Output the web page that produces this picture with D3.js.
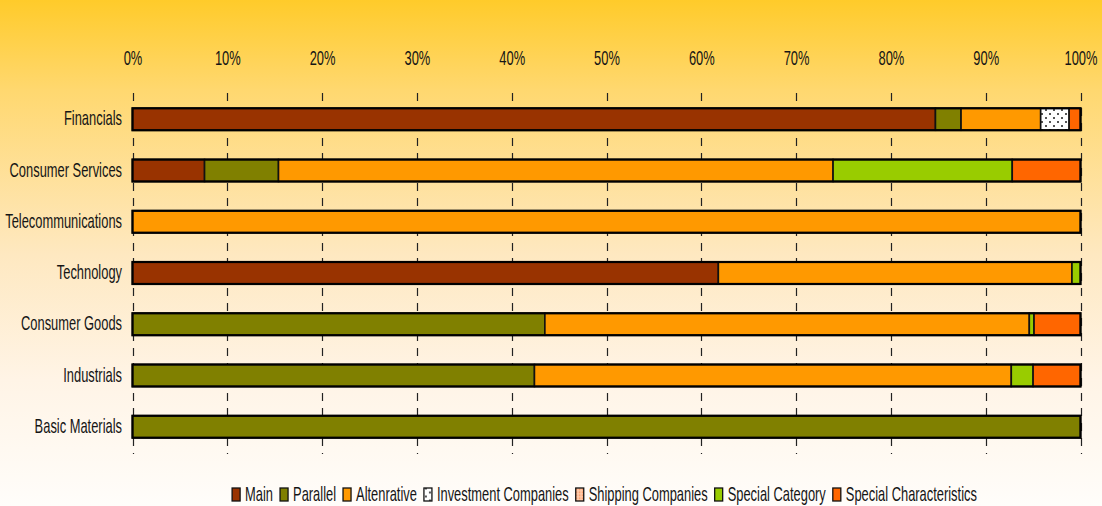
<!DOCTYPE html>
<html>
<head>
<meta charset="utf-8">
<script src="https://cdn.jsdelivr.net/npm/d3@7"></script>
<style>
  body { margin: 0; }
  text { font-family: 'Liberation Sans', Arial, sans-serif; fill: #151515; font-size: 20px; }
</style>
</head>
<body>
<div id="chart"></div>
<script>
// categories (top to bottom) and series, values in % of each sector
const categories = ["Financials", "Consumer Services", "Telecommunications", "Technology", "Consumer Goods", "Industrials", "Basic Materials"];
const seriesNames = ["Main", "Parallel", "Altenrative", "Investment Companies", "Shipping Companies", "Special Category", "Special Characteristics"];
const mainVals      = [84.7, 7.6, 0, 61.8, 0, 0, 0];
const parallelVals  = [2.7, 7.8, 0, 0, 43.5, 42.4, 100];
const altVals       = [8.4, 58.5, 100, 37.3, 51.1, 50.3, 0];
const investVals    = [3.0, 0, 0, 0, 0, 0, 0];
const shippingVals  = [0, 0, 0, 0, 0, 0, 0];
const specCatVals   = [0, 18.9, 0, 0.9, 0.5, 2.3, 0];
const specCharVals  = [1.2, 7.2, 0, 0, 4.9, 5.0, 0];
const tickValues = [0, 10, 20, 30, 40, 50, 60, 70, 80, 90, 100];

const colors = ["#993300", "#808000", "#ff9900", "url(#dots)", "url(#ship)", "#99cc00", "#ff6600"];
const NARROW = 0.645; // the original text is tall and very condensed

const W = 1102, H = 506;
const svg = d3.select("#chart").append("svg")
    .attr("width", W)
    .attr("height", H);

const defs = svg.append("defs");
const grad = defs.append("linearGradient")
    .attr("id", "bg").attr("x1", 0).attr("y1", 0).attr("x2", 0).attr("y2", 1);
grad.append("stop").attr("offset", "0%").attr("stop-color", "#ffcb2a");
grad.append("stop").attr("offset", "18%").attr("stop-color", "#ffd870");
grad.append("stop").attr("offset", "50%").attr("stop-color", "#fee8c0");
grad.append("stop").attr("offset", "75%").attr("stop-color", "#fff4e6");
grad.append("stop").attr("offset", "100%").attr("stop-color", "#fffdfa");

const dots = defs.append("pattern").attr("id", "dots")
    .attr("width", 8).attr("height", 8).attr("patternUnits", "userSpaceOnUse");
dots.append("rect").attr("width", 8).attr("height", 8).attr("fill", "#fff");
dots.append("rect").attr("x", 1).attr("y", 1).attr("width", 2).attr("height", 2).attr("fill", "#555");
dots.append("rect").attr("x", 5).attr("y", 5).attr("width", 2).attr("height", 2).attr("fill", "#555");

const ship = defs.append("pattern").attr("id", "ship")
    .attr("width", 3).attr("height", 3).attr("patternUnits", "userSpaceOnUse");
ship.append("rect").attr("width", 3).attr("height", 3).attr("fill", "#ffd0b0");
ship.append("rect").attr("width", 1.5).attr("height", 1.5).attr("fill", "#ff8a50");

svg.append("rect").attr("width", W).attr("height", H).attr("fill", "url(#bg)");

const x = d3.scaleLinear().domain([0, 100]).range([132.5, 1080.5]);
const y = d3.scaleBand().domain(categories).range([79, 467]).padding(0.571);

// build rows for stacking
const allVals = [mainVals, parallelVals, altVals, investVals, shippingVals, specCatVals, specCharVals];
const rows = categories.map((c, i) => {
    const r = {cat: c};
    seriesNames.forEach((s, j) => r[s] = allVals[j][i]);
    return r;
});
const stacked = d3.stack().keys(seriesNames)(rows);

// dashed grid lines
svg.append("g")
  .selectAll("line")
  .data(tickValues)
  .enter().append("line")
    .attr("x1", d => Math.round(x(d)) + 0.5)
    .attr("x2", d => Math.round(x(d)) + 0.5)
    .attr("y1", 93)
    .attr("y2", 454)
    .attr("stroke", "#222")
    .attr("stroke-width", 1.2)
    .attr("stroke-dasharray", "8,7");

// top axis labels
const axis = svg.append("g")
    .attr("transform", "translate(0,65)")
    .call(d3.axisTop(x).tickValues(tickValues).tickFormat(d => d + "%").tickSize(0).tickPadding(0));
axis.select(".domain").remove();
axis.selectAll("text")
    .style("font-size", null)
    .style("font-family", null)
    .attr("y", null).attr("dy", null)
    .attr("transform", `scale(${NARROW},1)`);

// bars
svg.append("g")
  .selectAll("g")
  .data(stacked)
  .enter().append("g")
    .attr("fill", (d, i) => colors[i])
  .selectAll("rect")
  .data(d => d.filter(p => p[1] - p[0] > 0))
  .enter().append("rect")
    .attr("x", d => x(d[0]))
    .attr("y", d => y(d.data.cat))
    .attr("width", d => x(d[1]) - x(d[0]))
    .attr("height", y.bandwidth())
    .attr("stroke", "#111")
    .attr("stroke-width", 1.6);

// outer outline of each bar
svg.append("g")
  .selectAll("rect")
  .data(categories)
  .enter().append("rect")
    .attr("x", x(0))
    .attr("y", d => y(d))
    .attr("width", x(100) - x(0))
    .attr("height", y.bandwidth())
    .attr("fill", "none")
    .attr("stroke", "#000")
    .attr("stroke-width", 2.2);

// category labels
svg.append("g")
  .selectAll("text")
  .data(categories)
  .enter().append("text")
    .attr("transform", d => `translate(122,${y(d) + y.bandwidth() / 2}) scale(${NARROW},1)`)
    .attr("dy", "0.3em")
    .attr("text-anchor", "end")
    .text(d => d);

// legend
const legend = svg.append("g");
let lx = 0;
const gap = 7;
seriesNames.forEach((s, i) => {
    const g = legend.append("g").attr("transform", `translate(${lx},0)`);
    g.append("rect")
        .attr("x", 0).attr("y", -6.5)
        .attr("width", 8).attr("height", 13)
        .attr("fill", colors[i])
        .attr("stroke", "#111")
        .attr("stroke-width", 1.3);
    const t = g.append("text")
        .attr("transform", `translate(13,0) scale(${NARROW},1)`)
        .attr("dy", "0.33em")
        .text(s);
    lx += 13 + t.node().getComputedTextLength() * NARROW + gap;
});
const totalW = lx - gap;
legend.attr("transform", `translate(${(232 + 977) / 2 - totalW / 2},494.5)`);
</script>
</body>
</html>
